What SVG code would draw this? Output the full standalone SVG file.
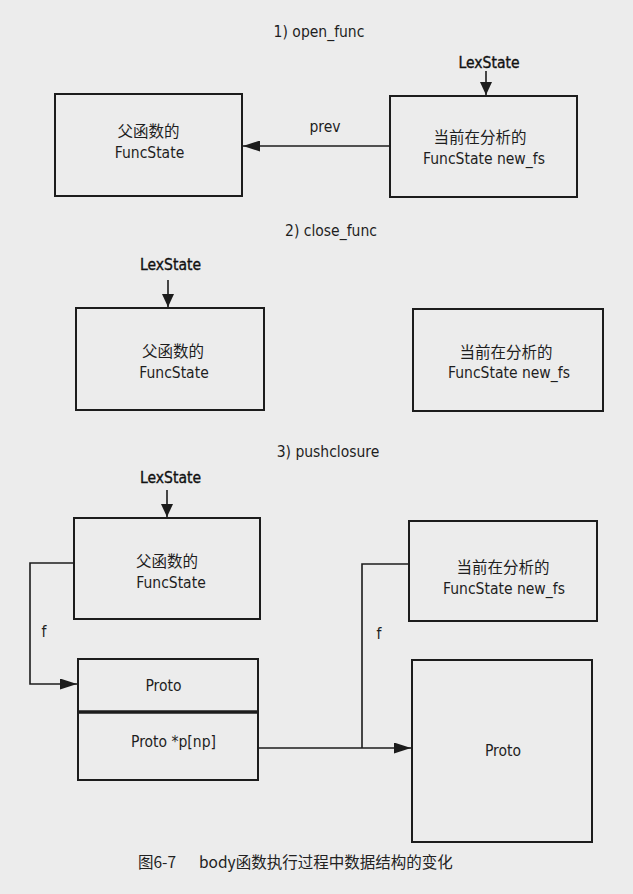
<svg xmlns="http://www.w3.org/2000/svg" width="633" height="894" viewBox="0 0 633 894">
  <style>
    .box { fill: none; stroke: #1c1c1c; stroke-width: 2; }
    .wire { fill: none; stroke: #1c1c1c; stroke-width: 1.6; }
    .lat { font-family: "DejaVu Sans Condensed", "DejaVu Sans", sans-serif; font-stretch: condensed; font-size: 15.5px; fill: #1e1e1e; text-anchor: middle; }
    .cjk { font-family: "Noto Sans CJK SC", sans-serif; font-size: 15.5px; fill: #1e1e1e; text-anchor: middle; }
    .lex { font-family: "DejaVu Sans Condensed", "DejaVu Sans", sans-serif; font-stretch: condensed; font-size: 15.5px; fill: #111; stroke: #111; stroke-width: 0.35; text-anchor: middle; }
    .cap { font-family: "Noto Sans CJK SC", sans-serif; font-size: 15.5px; fill: #222; }
  </style>
  <defs>
    <marker id="arrow" viewBox="0 0 17 11" refX="17" refY="5.5" markerWidth="17" markerHeight="11" markerUnits="userSpaceOnUse" orient="auto">
      <path d="M0,0 L17,5.5 L0,11 z" fill="#1c1c1c"/>
    </marker>
    <marker id="arrowSmall" viewBox="0 0 13 12" refX="13" refY="6" markerWidth="13" markerHeight="12" markerUnits="userSpaceOnUse" orient="auto">
      <path d="M0,0 L13,6 L0,12 z" fill="#1c1c1c"/>
    </marker>
  </defs>

  <!-- page -->
  <rect x="0" y="0" width="633" height="894" fill="#ececec"/>

  <!-- step titles -->
  <text class="lat" x="319" y="36.5">1) open_func</text>
  <text class="lat" x="331" y="235.5">2) close_func</text>
  <text class="lat" x="328" y="456.5">3) pushclosure</text>

  <!-- step 1 -->
  <g id="s1-parent">
    <rect class="box" x="55" y="94" width="187" height="102"/>
    <text class="cjk" x="148.5" y="137">父函数的</text>
    <text class="lat" x="149.5" y="158">FuncState</text>
  </g>
  <g id="s1-current">
    <rect class="box" x="390" y="96" width="187" height="101"/>
    <text class="cjk" x="480" y="143">当前在分析的</text>
    <text class="lat" x="484" y="164">FuncState new_fs</text>
  </g>
  <g id="s1-lex">
    <text class="lex" x="489" y="68">LexState</text>
  </g>

  <!-- step 2 -->
  <g id="s2-parent">
    <rect class="box" x="76" y="308" width="188" height="102"/>
    <text class="cjk" x="173" y="357">父函数的</text>
    <text class="lat" x="174" y="378">FuncState</text>
  </g>
  <g id="s2-current">
    <rect class="box" x="413" y="309" width="190" height="102"/>
    <text class="cjk" x="506" y="358">当前在分析的</text>
    <text class="lat" x="509" y="378">FuncState new_fs</text>
  </g>
  <g id="s2-lex">
    <text class="lex" x="170.5" y="270">LexState</text>
  </g>

  <!-- step 3 -->
  <g id="s3-parent">
    <rect class="box" x="74" y="518" width="186" height="101"/>
    <text class="cjk" x="167" y="567">父函数的</text>
    <text class="lat" x="171" y="588">FuncState</text>
  </g>
  <g id="s3-current">
    <rect class="box" x="409" y="521" width="188" height="100"/>
    <text class="cjk" x="503" y="573">当前在分析的</text>
    <text class="lat" x="504" y="594">FuncState new_fs</text>
  </g>
  <g id="s3-lex">
    <text class="lex" x="170.5" y="483">LexState</text>
  </g>
  <g id="s3-parent-proto">
    <rect class="box" x="78" y="659" width="180" height="121"/>
    <line x1="78" y1="712" x2="258" y2="712" stroke="#1c1c1c" stroke-width="3.5"/>
    <text class="lat" x="163.5" y="691">Proto</text>
    <text class="lat" x="173.5" y="747">Proto *p[np]</text>
  </g>
  <g id="s3-new-proto">
    <rect class="box" x="412" y="660" width="180" height="182"/>
    <text class="lat" x="503" y="756">Proto</text>
  </g>

  <!-- connectors -->
  <g id="connectors">
    <line class="wire" x1="486" y1="71" x2="486" y2="95" marker-end="url(#arrowSmall)"/>
    <path class="wire" d="M390,146 H243" marker-end="url(#arrow)"/>
    <text class="lat" x="325" y="132">prev</text>

    <line class="wire" x1="168" y1="280" x2="168" y2="307" marker-end="url(#arrowSmall)"/>

    <line class="wire" x1="167" y1="490" x2="167" y2="517" marker-end="url(#arrowSmall)"/>
    <path class="wire" d="M74,563 H30 V684 H77" marker-end="url(#arrow)"/>
    <text class="lat" x="44" y="637">f</text>
    <path class="wire" d="M409,564 H362 V748"/>
    <text class="lat" x="379" y="639">f</text>
    <path class="wire" d="M258,748 H411" marker-end="url(#arrow)"/>
  </g>

  <!-- caption -->
  <text class="cap" y="868"><tspan x="138">图6-7</tspan><tspan x="199">body函数执行过程中数据结构的变化</tspan></text>
</svg>
